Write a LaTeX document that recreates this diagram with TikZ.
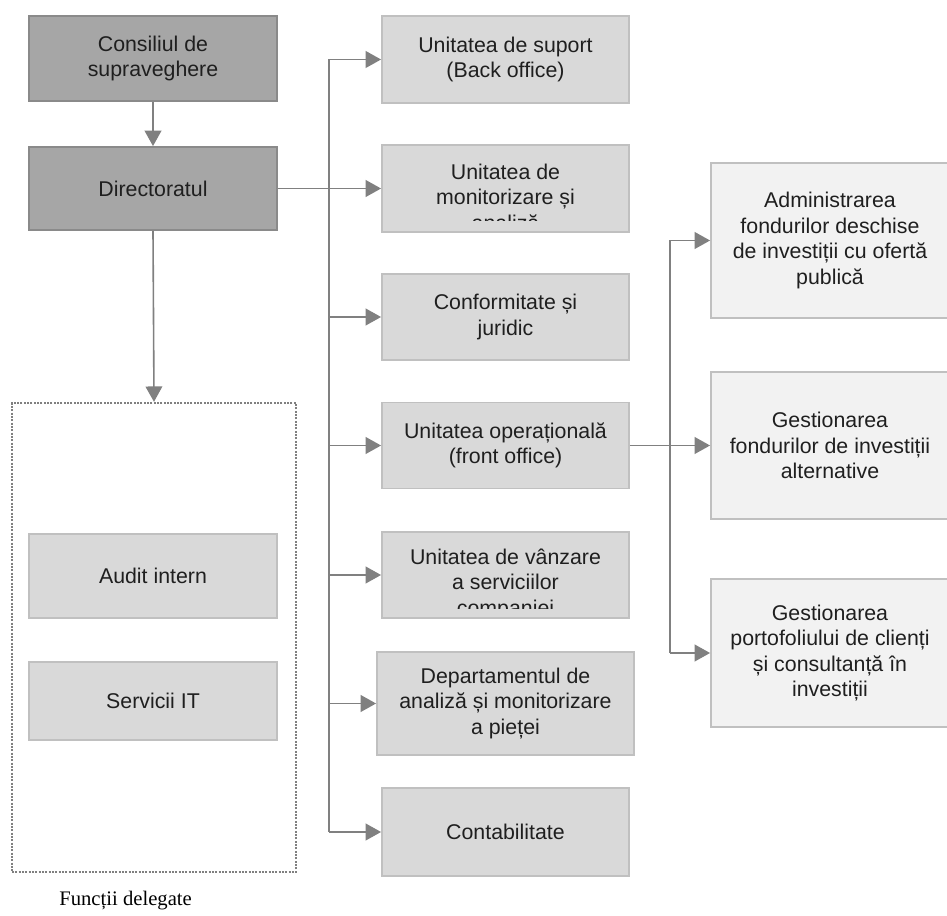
\documentclass[tikz,border=0pt]{standalone}
\usepackage{fontspec}
\setmainfont{Liberation Sans}
\newfontfamily\serifz{Liberation Serif}
\usetikzlibrary{arrows.meta}
\definecolor{darkfill}{HTML}{A6A6A6}
\definecolor{darkline}{HTML}{8A8A8A}
\definecolor{lightfill}{HTML}{D9D9D9}
\definecolor{paleFill}{HTML}{F2F2F2}
\definecolor{boxline}{HTML}{C0C0C0}
\definecolor{connline}{HTML}{808080}
\definecolor{txtcol}{HTML}{1F1F1F}
\tikzset{
  basebox/.style={inner sep=0pt, align=center, text=txtcol, line width=1.4pt,
    font=\fontsize{16}{19.1}\selectfont},
  darkbox/.style={basebox, fill=darkfill, draw=darkline},
  lightbox/.style={basebox, fill=lightfill, draw=boxline},
  palebox/.style={basebox, fill=paleFill, draw=boxline},
  txtonly/.style={inner sep=0pt, align=center, text=txtcol, font=\fontsize{16}{19.1}\selectfont},
  conn/.style={draw=connline, line width=1.2pt},
  arr/.style={conn, -{Triangle[length=11.5pt, width=12.5pt]}},
  dotbox/.style={draw=connline, line width=1.8pt, dash pattern=on 1.6pt off 0.9pt, fill=white}
}
\begin{document}
\begin{tikzpicture}[x=0.75pt, y=-0.75pt]
\useasboundingbox (0,0) rectangle (947,916);
\fill[white] (0,0) rectangle (947,916);

% left column
\node[darkbox, minimum width=186pt, minimum height=63.75pt] (cons) at (153,58.5) {Consiliul de\\supraveghere};
\node[darkbox, minimum width=186pt, minimum height=62.25pt] (dir) at (153,188.5) {Directoratul};

% delegated functions
\node[dotbox, minimum width=213pt, minimum height=351.75pt] (dots) at (154,637.5) {};
\node[lightbox, minimum width=186pt, minimum height=63pt] (audit) at (153,576) {Audit intern};
\node[lightbox, minimum width=186pt, minimum height=58.5pt] (it) at (153,701) {Servicii IT};
\node[anchor=west, inner sep=0pt, font=\serifz\fontsize{15.5}{18}\selectfont, text=black] (lbl) at (59,901) {Funcții delegate};

% middle column
\node[lightbox, minimum width=185.25pt, minimum height=65.25pt] (sup) at (505.5,59.5) {Unitatea de suport\\(Back office)};
\node[lightbox, minimum width=185.25pt, minimum height=65.25pt] (mon) at (505.5,188.5) {};
\begin{scope}
  \clip (382,147) rectangle (629,221);
  \node[txtonly] (monT) at (505.5,197) {Unitatea de\\monitorizare și\\analiză};
\end{scope}
\node[lightbox, minimum width=185.25pt, minimum height=64.5pt] (conf) at (505.5,317) {Conformitate și\\juridic};
\node[lightbox, minimum width=185.25pt, minimum height=64.5pt] (op) at (505.5,445.5) {Unitatea operațională\\(front office)};
\node[lightbox, minimum width=185.25pt, minimum height=64.5pt] (vanz) at (505.5,575) {};
\begin{scope}
  \clip (382,534) rectangle (629,608);
  \node[txtonly] (vanzT) at (505.5,584) {Unitatea de vânzare\\a serviciilor\\companiei};
\end{scope}
\node[lightbox, minimum width=192.75pt, minimum height=77.25pt] (dep) at (505.5,703.5) {Departamentul de\\analiză și monitorizare\\a pieței};
\node[lightbox, minimum width=185.25pt, minimum height=66pt] (cont) at (505.5,832) {Contabilitate};

% right column
\node[palebox, minimum width=178.5pt, minimum height=116.25pt] (adm) at (830,240.5) {Administrarea\\fondurilor deschise\\de investiții cu ofertă\\publică};
\node[palebox, minimum width=178.5pt, minimum height=110.25pt] (alt) at (830,445.5) {Gestionarea\\fondurilor de investiții\\alternative};
\node[palebox, minimum width=178.5pt, minimum height=111pt] (port) at (830,653) {Gestionarea\\portofoliului de clienți\\și consultanță în\\investiții};

% bus coordinates
\coordinate (bus) at (329,0);
\coordinate (bus2) at (670,0);

% connectors
\draw[arr] (cons.south) -- (dir.north);
\draw[arr] (dir.south) -- (dots.north);
\draw[arr] (dir.east) -- (mon.west);
\draw[conn] (sup.west -| bus) -- (cont.west -| bus);
\draw[arr] (sup.west -| bus) -- (sup.west);
\draw[arr] (conf.west -| bus) -- (conf.west);
\draw[arr] (op.west -| bus) -- (op.west);
\draw[arr] (vanz.west -| bus) -- (vanz.west);
\draw[arr] (dep.west -| bus) -- (dep.west);
\draw[arr] (cont.west -| bus) -- (cont.west);

\draw[arr] (op.east) -- (alt.west);
\draw[conn] (adm.west -| bus2) -- (port.west -| bus2);
\draw[arr] (adm.west -| bus2) -- (adm.west);
\draw[arr] (port.west -| bus2) -- (port.west);
\end{tikzpicture}
\end{document}
